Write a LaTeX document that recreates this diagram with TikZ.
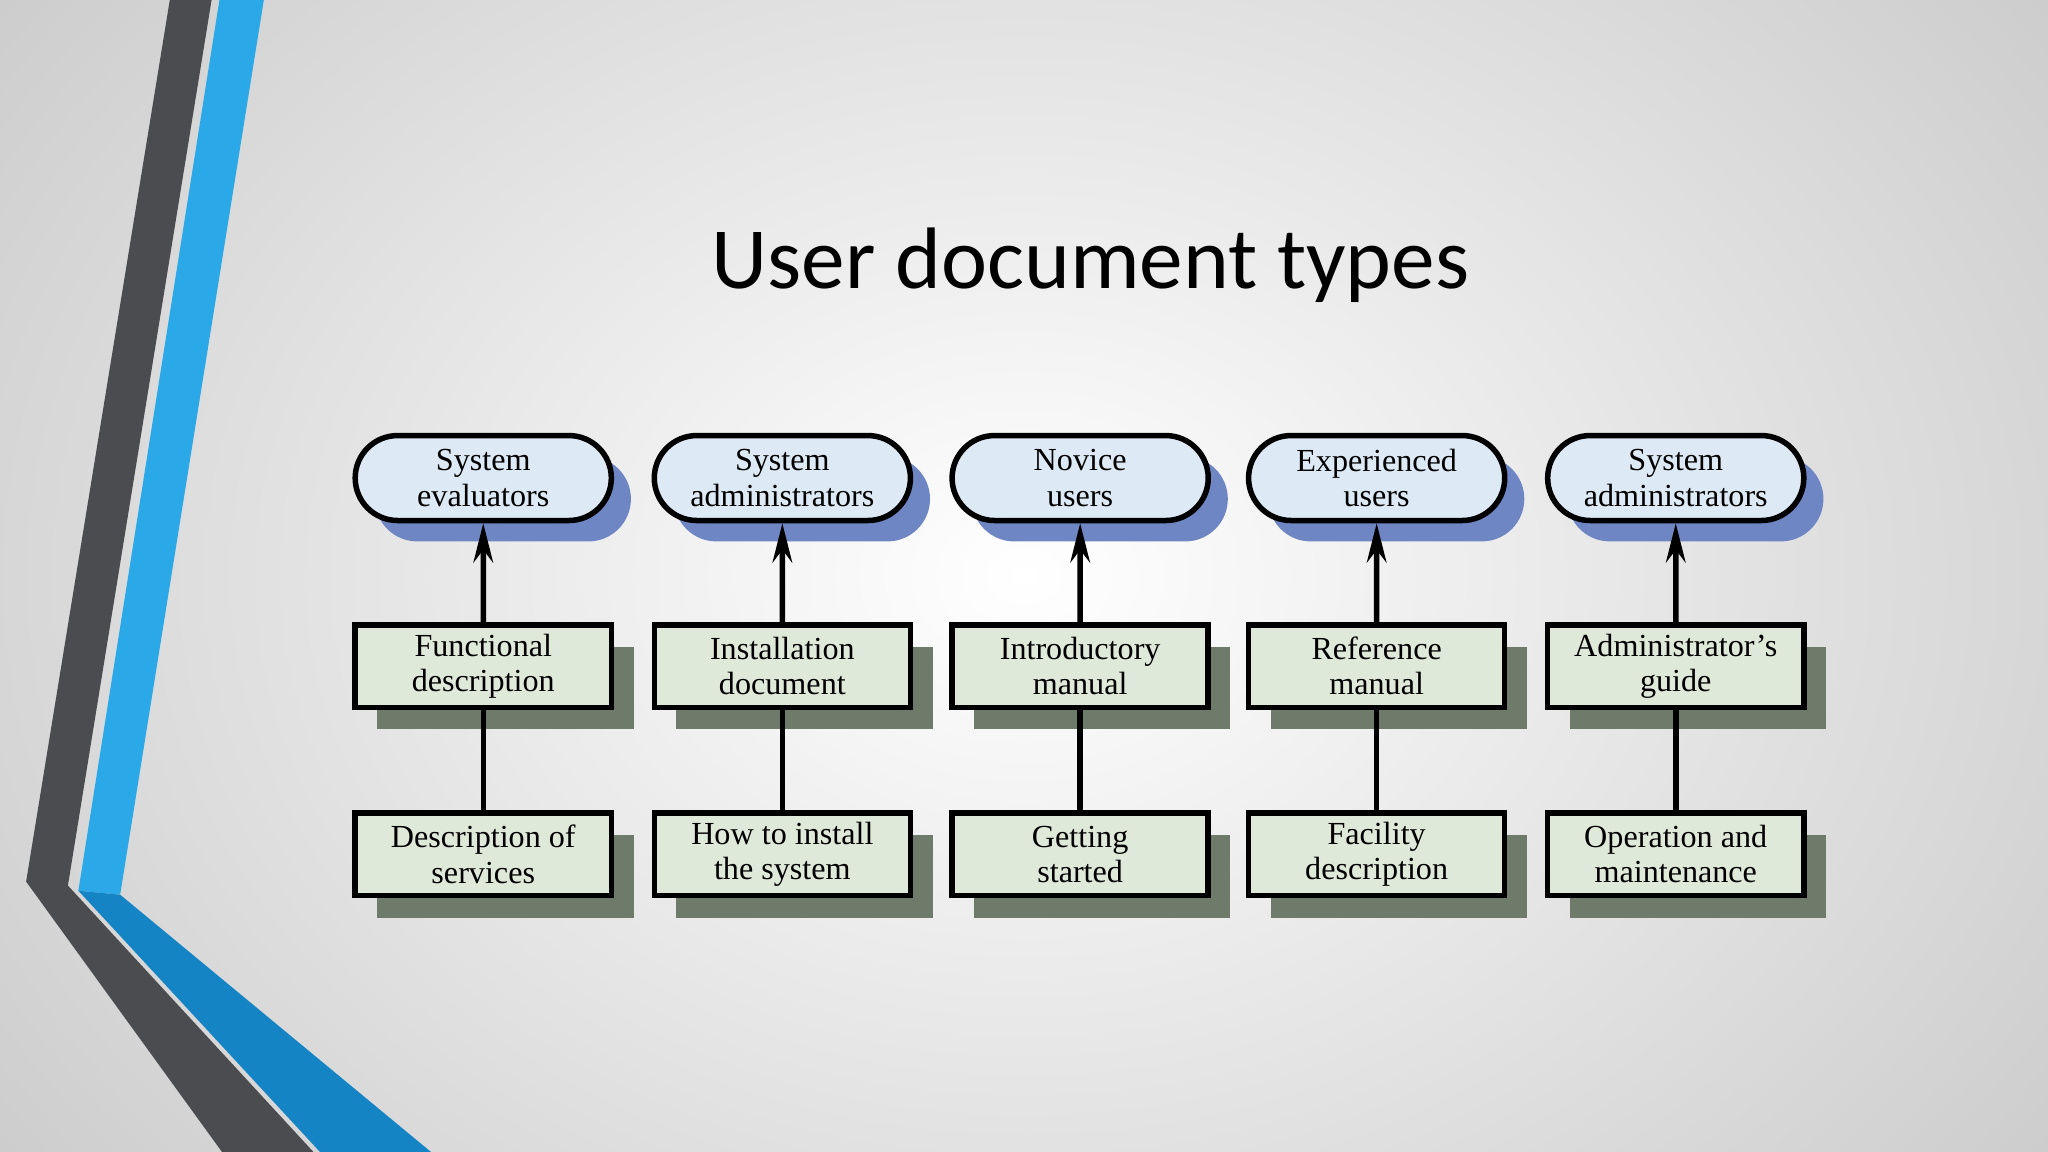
\documentclass[tikz,border=0pt]{standalone}
\usepackage{fontspec}
\setmainfont{Liberation Serif}
\newfontfamily\titlefont{Carlito}
\usetikzlibrary{arrows.meta,shapes.misc}
\definecolor{ovfill}{HTML}{DDE9F5}
\definecolor{ovshadow}{HTML}{6F86C4}
\definecolor{bxfill}{HTML}{DFE9D9}
\definecolor{bxshadow}{HTML}{6E7B6A}
\definecolor{bandgray}{HTML}{4A4C4F}
\definecolor{bandblue}{HTML}{2AA8E8}
\definecolor{bandblue2}{HTML}{1584C4}
\tikzset{
 px/.style={x=0.01cm,y=-0.01cm},
 usr/.style={rounded rectangle,draw=black,line width=1.2pt,fill=ovfill,minimum width=1.96cm,minimum height=0.65cm,inner sep=0pt,align=center,font=\fontsize{7}{7.7}\selectfont},
 doc/.style={rectangle,draw=black,line width=1.2pt,fill=bxfill,minimum width=1.96cm,minimum height=0.63cm,inner sep=0pt,align=center,font=\fontsize{7}{7.7}\selectfont},
 usrsh/.style={rounded rectangle,fill=ovshadow,minimum width=1.96cm,minimum height=0.65cm,inner sep=0pt},
 docsh/.style={rectangle,fill=bxshadow,minimum width=1.96cm,minimum height=0.63cm,inner sep=0pt},
 link/.style={line width=1.2pt},
 up/.style={link,-{Stealth[length=0.3cm,width=0.15cm]}}
}
\begin{document}
\begin{tikzpicture}[px]
\useasboundingbox (0,0) rectangle (1568,882);
\shade[inner color=white,outer color=black!22] (-300,-400) rectangle (1868,1282);
\fill[bandgray] (130,0)--(162,0)--(52,678)--(240,882)--(170,882)--(20,675)--cycle;
\fill[bandblue] (168,0)--(202,0)--(92,685)--(60,682)--cycle;
\fill[bandblue2] (60,682)--(92,685)--(330,882)--(245,882)--cycle;
\node[font=\titlefont\fontsize{19}{22}\selectfont] (title) at (835,203) {User document types};
\foreach \i/\x/\u/\d/\b in {
 1/370/{System\\evaluators}/{Functional\\description}/{Description of\\services},
 2/599/{System\\administrators}/{Installation\\document}/{How to install\\the system},
 3/827/{Novice\\users}/{Introductory\\manual}/{Getting\\started},
 4/1054/{Experienced\\users}/{Reference\\manual}/{Facility\\description},
 5/1283/{System\\administrators}/{Administrator's\\guide}/{Operation and\\maintenance}}{
 \node[usrsh] at (\x+15,382) {};
 \node[docsh] at (\x+17,527) {};
 \node[docsh] at (\x+17,671) {};
 \node[usr] (u\i) at (\x,366) {\u};
 \node[doc] (d\i) at (\x,510) {\d};
 \node[doc] (b\i) at (\x,654) {\b};
 \draw[up] (d\i) -- (u\i);
 \draw[link] (b\i) -- (d\i);
}
\end{tikzpicture}
\end{document}
